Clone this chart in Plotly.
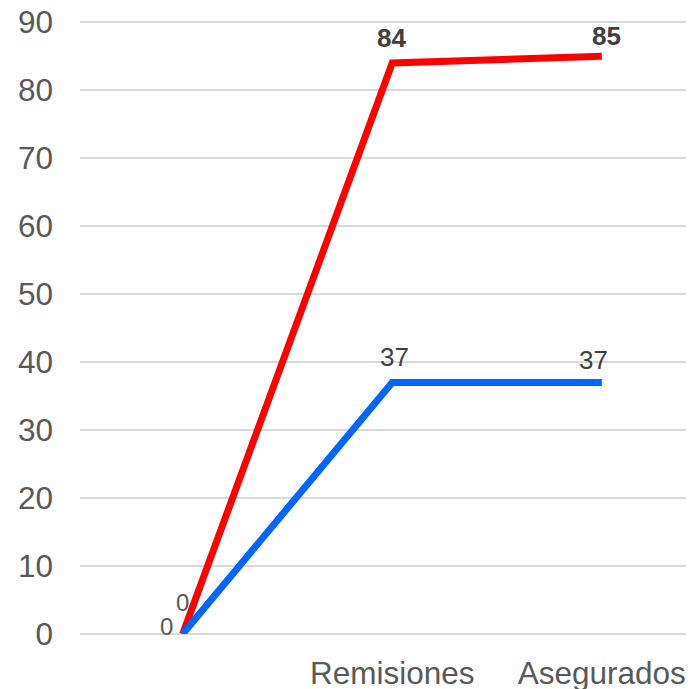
import plotly.graph_objects as go

categories = ["", "Remisiones", "Asegurados"]
red_values = [0, 84, 85]
blue_values = [0, 37, 37]
y_ticks = [0, 10, 20, 30, 40, 50, 60, 70, 80, 90]

x = list(range(len(categories)))

# label placement (pixel offsets from each point) - styling only
red_label_shift = [(0, 32), (-1, 25), (5, 20)]
blue_label_shift = [(-16, 8), (2, 25), (-8, 22)]

fig = go.Figure()
fig.add_trace(go.Scatter(
    x=x, y=red_values, mode="lines",
    line=dict(color="#FF0000", width=7),
    hoverinfo="skip", showlegend=False,
))
fig.add_trace(go.Scatter(
    x=x, y=blue_values, mode="lines",
    line=dict(color="#0066FF", width=7),
    hoverinfo="skip", showlegend=False,
))

annotations = []
for i, v in enumerate(red_values):
    dx, dy = red_label_shift[i]
    annotations.append(dict(
        x=x[i], y=v, text=str(v), showarrow=False,
        xanchor="center", yanchor="middle", xshift=dx, yshift=dy,
        font=dict(family="Liberation Sans", size=24 if v == 0 else 26,
                  color="#595959" if v == 0 else "#404040",
                  weight="normal" if v == 0 else "bold"),
    ))
for i, v in enumerate(blue_values):
    dx, dy = blue_label_shift[i]
    annotations.append(dict(
        x=x[i], y=v, text=str(v), showarrow=False,
        xanchor="center", yanchor="middle", xshift=dx, yshift=dy,
        font=dict(family="Liberation Sans", size=24 if v == 0 else 26,
                  color="#595959" if v == 0 else "#404040"),
    ))

fig.update_layout(
    width=686, height=681,
    margin=dict(l=72, r=0, t=4, b=55),
    paper_bgcolor="white", plot_bgcolor="white",
    font=dict(family="Liberation Sans", color="#595959"),
    annotations=annotations,
)
fig.update_xaxes(
    range=[-0.49, 2.44], tickvals=x, ticktext=categories,
    showgrid=False, zeroline=False, showline=False,
    tickfont=dict(size=31.5, color="#595959"),
    ticklabelstandoff=17, automargin=False,
)
fig.update_yaxes(
    range=[0, 91.5], tickvals=y_ticks,
    showgrid=True, gridcolor="#D9D9D9", gridwidth=1.5,
    zeroline=True, zerolinecolor="#D9D9D9", zerolinewidth=1.5,
    showline=False,
    tickfont=dict(size=31.5, color="#595959"),
    ticklabelstandoff=26, ticklabeloverflow="allow", automargin=False,
)

fig.write_html("out.html")
